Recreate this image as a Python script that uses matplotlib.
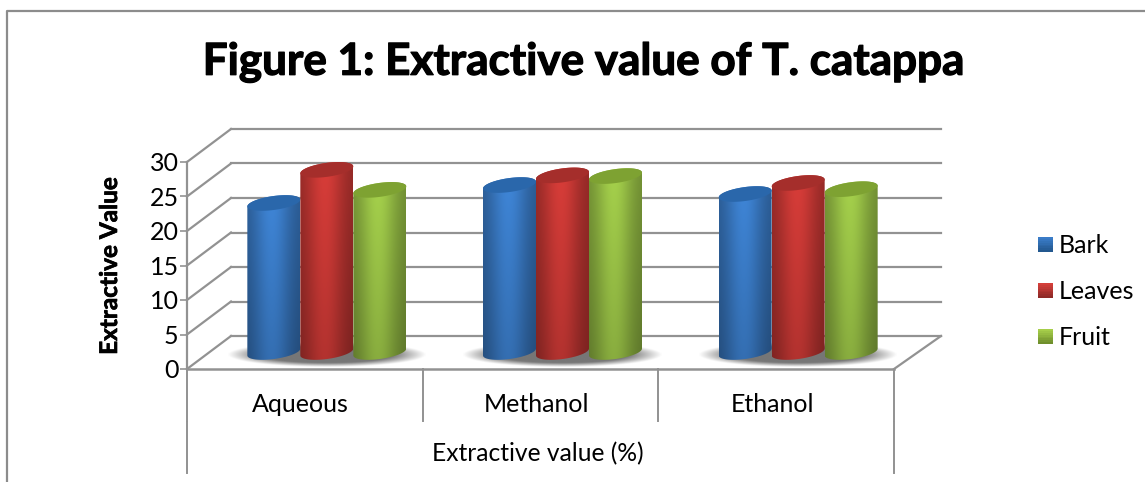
import numpy as np
import matplotlib
matplotlib.use("Agg")
import matplotlib.pyplot as plt
import matplotlib.patheffects as pe
from matplotlib.lines import Line2D
from matplotlib.patches import Polygon, Rectangle
from matplotlib.legend_handler import HandlerBase
from matplotlib.transforms import ScaledTranslation

plt.rcParams['font.family'] = ['Lato', 'DejaVu Sans']

# data
categories = ["Aqueous", "Methanol", "Ethanol"]
series_names = ["Bark", "Leaves", "Fruit"]
bark = [21.6, 24.2, 22.9]
leaves = [26.4, 25.6, 24.5]
fruit = [23.5, 25.5, 23.6]
y_ticks = [0, 5, 10, 15, 20, 25, 30]
title = "Figure 1: Extractive value of T. catappa"
y_label = "Extractive Value"
x_label = "Extractive value (%)"

# colours: (mid, top cap)
bar_cols = [("#3f86d8", "#2a67ab"), ("#d93d39", "#a52e2b"), ("#a6d24c", "#7ea232")]
legend_cols = [("#3a7cc8", "#23588f"), ("#d43f3a", "#8f2a27"), ("#a6ce4a", "#6f8f2c")]
GRID = "#929292"

W, H = 1145, 482
fig = plt.figure(figsize=(W / 100, H / 100), dpi=100, facecolor="white")
ax = fig.add_axes([187 / W, 1 - 369 / H, 707 / W, 207 / H])
ax.set_xlim(-0.5, 2.5)
ax.set_ylim(0, 30)
ax.autoscale(False)
ax.patch.set_visible(False)
for s in ax.spines.values():
    s.set_visible(False)

# px -> data units
PX = 3 / 707
PY = 30 / 207
DX, DY = 44 * PX, 33 * PY

# walls and floor
for v in y_ticks:
    ax.plot([-0.5, -0.5 + DX], [v, v + DY], color=GRID, lw=1.6, clip_on=False, zorder=1)
    ax.plot([-0.5 + DX, 2.5 + 47 * PX], [v + DY, v + DY], color=GRID, lw=1.6, clip_on=False, zorder=1)
ax.plot([2.5, 2.5 + 47 * PX], [0, DY], color=GRID, lw=1.6, clip_on=False, zorder=1)
ax.plot([-0.5, 2.5], [0, 0], color=GRID, lw=1.8, clip_on=False, zorder=1)
ax.plot([-0.5, -0.5], [0, 30], color=GRID, lw=1.6, clip_on=False, zorder=1)

# category brackets under the axis
for x in [-0.5, 0.5, 1.5, 2.5]:
    ax.plot([x, x], [0, -52 * PY], color=GRID, lw=1.4, clip_on=False)
for x in [-0.5, 2.5]:
    ax.plot([x, x], [-53 * PY, -104 * PY], color=GRID, lw=1.4, clip_on=False)

ax.set_yticks(y_ticks)
ax.tick_params(axis="y", length=5, width=1.2, color=GRID, labelsize=18, pad=1)
ax.set_xticks(range(len(categories)), categories)
ax.tick_params(axis="x", length=0, labelsize=18, pad=17)
shift = ScaledTranslation(-4 / 100, 0, fig.dpi_scale_trans)
for lab in ax.get_xticklabels():
    lab.set_transform(lab.get_transform() + shift)
ax.text(1 - 3 * PX, -85 * PY, x_label, ha="center", va="center", fontsize=17.7, clip_on=False)
ylab = ax.set_ylabel(y_label, fontsize=17.5, fontweight="bold", labelpad=4)
ylab.set_path_effects([pe.withStroke(linewidth=0.5, foreground="black")])
ax.yaxis.set_label_coords(-66 / 707, 0.497)


def shade(hex_col, f):
    c = np.array(matplotlib.colors.to_rgb(hex_col))
    return np.clip(c * f, 0, 1)


def floor_shadow(cx):
    # soft grey shadow on the floor
    n = 120
    u, v = np.meshgrid(np.linspace(-1, 1, n), np.linspace(-1, 1, n))
    r = np.sqrt(u ** 2 + v ** 2)
    img = np.zeros((n, n, 4))
    img[..., :3] = 0.33
    img[..., 3] = np.clip((1 - r) * 3, 0, 1) * 0.8
    mid_y = 2.46 - 3 * PY
    ax.imshow(img, extent=[cx - 100 * PX, cx + 100 * PX, mid_y - 12 * PY, mid_y + 12 * PY],
              aspect="auto", zorder=2, clip_on=False, interpolation="bilinear")


def cylinder(cx, val, mid, cap, z):
    a, b, tilt = 26.5, 7.0, 0.13
    base, top = 2.46, 2.46 + val
    t_low = np.linspace(np.pi, 2 * np.pi, 40)
    t_up = np.linspace(0, np.pi, 40)
    xl = a * np.cos(t_low)
    yl = b * np.sin(t_low) + tilt * xl
    xu = a * np.cos(t_up)
    yu = b * np.sin(t_up) + tilt * xu
    outline = np.r_[np.c_[cx + xl * PX, base + yl * PY], np.c_[cx + xu * PX, top + yu * PY]]
    clip = Polygon(outline, closed=True, transform=ax.transData, fc="none", ec="none")

    # body gradient: highlight left of centre, dark edges, darker to the bottom
    xs = np.linspace(0, 1, 80)
    prof = 0.66 + 0.34 * np.exp(-((xs - 0.47) / 0.36) ** 2)
    vert = np.linspace(1.0, 0.82, 60)
    img = np.zeros((60, 80, 3))
    for i in range(60):
        for j in range(80):
            img[i, j] = shade(mid, prof[j] * vert[i])
    im = ax.imshow(img, extent=[cx - a * PX, cx + a * PX, base - 12 * PY, top + 12 * PY],
                   aspect="auto", zorder=z, interpolation="bilinear")
    ax.add_patch(clip)
    im.set_clip_path(clip)

    # top cap
    tt = np.linspace(0, 2 * np.pi, 80)
    xc = a * np.cos(tt)
    yc = b * np.sin(tt) + tilt * xc
    ax.add_patch(Polygon(np.c_[cx + xc * PX, top + yc * PY], closed=True, fc=cap, ec="none",
                         zorder=z + 0.1, clip_on=False))


series = [bark, leaves, fruit]
for i in range(len(categories)):
    cx0 = i + 22 * PX
    floor_shadow(cx0)
    for k, vals in enumerate(series):
        cylinder(cx0 + (k - 1) * 53 * PX, vals[i], bar_cols[k][0], bar_cols[k][1], 3 + k)


class GradSquare(HandlerBase):
    # legend key with a light-to-dark vertical fade
    def create_artists(self, legend, orig, xd, yd, width, height, fontsize, trans):
        top, bot = np.array(matplotlib.colors.to_rgb(orig[0])), np.array(matplotlib.colors.to_rgb(orig[1]))
        n = 8
        side = 10.8
        y0 = 0.5
        out = []
        for i in range(n):
            c = top + (bot - top) * i / (n - 1)
            out.append(Rectangle((0, y0 + side * (n - 1 - i) / n), side, side / n + 0.2,
                                 fc=c, ec="none", transform=trans))
        return out


handles = [tuple(c) for c in legend_cols]
fig.legend(handles, series_names, handler_map={tuple: GradSquare()}, loc="upper left",
           bbox_to_anchor=(1038 / W, 1 - 234 / H), frameon=False, fontsize=18,
           labelspacing=0.92, handlelength=0.6, handletextpad=0.24, borderpad=0, borderaxespad=0)

ttl = fig.text(583 / W, 1 - 62 / H, title, ha="center", va="center", fontsize=31.7, fontweight="bold")
ttl.set_path_effects([pe.withStroke(linewidth=0.9, foreground="black")])

# outer chart frame (left and top only, the picture is cropped)
fig.add_artist(Line2D([7 / W, 7 / W, 1], [0, 1 - 11 / H, 1 - 11 / H], color="#8c8c8c", lw=1.6))

fig.savefig("out.png", dpi=100)
